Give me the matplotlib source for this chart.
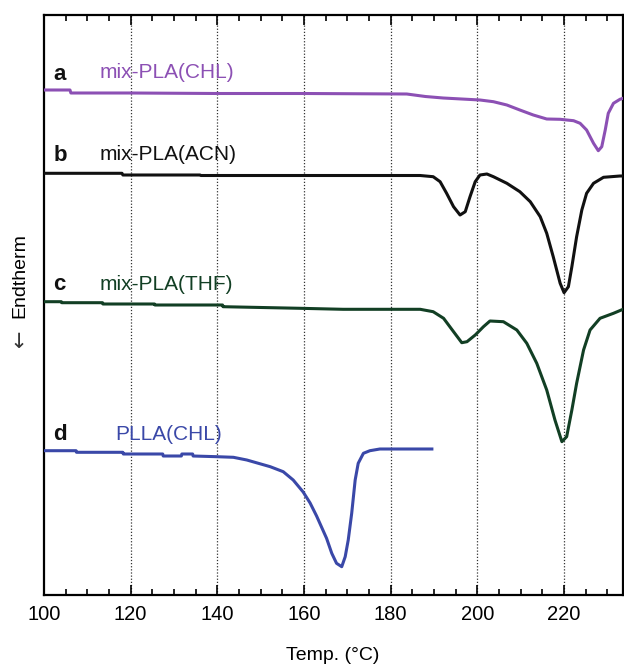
import matplotlib
matplotlib.use("Agg")
import matplotlib.pyplot as plt
from matplotlib.ticker import MultipleLocator

plt.rcParams['font.family'] = ['Liberation Sans', 'DejaVu Sans']

# DSC traces, temperature (°C) vs heat flow (arbitrary units, curves offset)
temp_a = [100, 106, 106.2, 120, 140, 160, 183.7, 188, 192.1, 200.6, 203.7, 206.8, 209.8,
          212.9, 216.0, 219.1, 222.2, 223.7, 225.2, 226.8, 227.9, 228.7, 229.5, 230.2,
          231.4, 232.9, 233.6]
flow_a = [51.0, 51.0, 50.7, 50.7, 50.65, 50.65, 50.6, 50.35, 50.2, 50.0, 49.83, 49.5, 49.0,
          48.5, 48.1, 48.07, 47.93, 47.67, 47.0, 45.67, 44.93, 45.33, 47.0, 48.67,
          49.67, 50.07, 50.17]

temp_b = [100, 118, 118.2, 136, 136.2, 186.8, 189.8, 191.4, 192.9, 194.5, 196.0, 197.2, 198.3,
          199.5, 200.6, 202.2, 203.7, 206.8, 209.8, 212.2, 214.5, 216.0, 217.5, 219.1,
          220.0, 221.0, 221.8, 222.9, 224.1, 225.2, 226.8, 229.1, 232.9, 233.6]
flow_b = [42.67, 42.67, 42.5, 42.5, 42.45, 42.45, 42.33, 41.83, 40.67, 39.33, 38.5, 38.83, 40.33,
          41.83, 42.5, 42.6, 42.33, 41.67, 40.83, 39.83, 38.33, 36.67, 34.33, 31.67,
          30.73, 31.33, 33.33, 36.33, 39.0, 40.67, 41.67, 42.27, 42.4, 42.4]

temp_c = [100, 104, 104.1, 113.5, 113.6, 125.5, 125.6, 141.2, 141.3, 159.1, 169.0, 186.8, 189.8,
          192.2, 194.5, 196.4, 197.6, 199.5, 201.4, 202.9, 206.0, 209.1, 211.4, 213.7,
          216.0, 217.9, 219.5, 220.6, 221.8, 222.9, 224.5, 226.0, 228.3, 231.4, 233.6]
flow_c = [29.83, 29.83, 29.73, 29.73, 29.6, 29.6, 29.5, 29.5, 29.33, 29.17, 29.07, 29.07, 28.83,
          28.17, 26.83, 25.73, 25.83, 26.5, 27.33, 27.9, 27.83, 27.0, 25.67, 23.67,
          21.0, 18.0, 15.83, 16.33, 19.0, 21.67, 25.0, 27.0, 28.17, 28.67, 29.07]

temp_d = [100, 107.4, 107.5, 118.2, 118.3, 127.4, 127.5, 131.7, 131.8, 134.3, 134.4, 139.9, 143.7,
          146.8, 152.2, 155.2, 157.5, 159.8, 161.4, 162.9, 165.2, 166.4, 167.5, 168.7,
          169.5, 170.2, 171.0, 171.8, 172.5, 173.7, 175.2, 177.5, 189.5]
flow_d = [14.93, 14.93, 14.77, 14.77, 14.6, 14.6, 14.4, 14.4, 14.6, 14.6, 14.4, 14.33, 14.27,
          14.0, 13.33, 12.83, 12.0, 10.8, 9.7, 8.4, 6.17, 4.67, 3.67, 3.33,
          4.33, 6.0, 8.67, 12.0, 13.67, 14.67, 14.93, 15.1, 15.1]

letters = ['a', 'b', 'c', 'd']
names = ['mix-PLA(CHL)', 'mix-PLA(ACN)', 'mix-PLA(THF)', 'PLLA(CHL)']
colors = ['#8c50b4', '#111111', '#123f24', '#3a48a8']

fig = plt.figure(figsize=(6.24, 6.66), dpi=100)
ax = fig.add_axes([44 / 624, 71 / 666, 579 / 624, 580 / 666])

# grid lines first so curves sit on top
for t in [120, 140, 160, 180, 200, 220]:
    ax.axvline(t, color='#333333', lw=0.9, ls=(0, (1, 1.5)), zorder=1)

curves = [(temp_a, flow_a), (temp_b, flow_b), (temp_c, flow_c), (temp_d, flow_d)]
for (t, f), c in zip(curves, colors):
    ax.plot(t, f, color=c, lw=2.2, zorder=3)

# curve labels
letter_y = [52.5, 44.45, 31.5, 16.5]
name_x = [112.9, 112.9, 112.9, 116.4]
name_y = [52.75, 44.5, 31.5, 16.55]
for i in range(4):
    ax.text(102.1, letter_y[i], letters[i], fontsize=16, fontweight='bold',
            color='#111111', ha='left', va='center')
    ax.text(name_x[i], name_y[i], names[i], fontsize=15, color=colors[i],
            ha='left', va='center')

ax.set_xlim(100, 233.6)
ax.set_ylim(0.5, 58.5)
ax.xaxis.set_major_locator(MultipleLocator(20))
ax.xaxis.set_minor_locator(MultipleLocator(5))
ax.tick_params(axis='x', which='both', direction='in', top=True, bottom=True,
               labelsize=14.5, pad=7, width=1.2)
ax.tick_params(axis='x', which='major', length=7)
ax.tick_params(axis='x', which='minor', length=4)
ax.set_yticks([])
for s in ax.spines.values():
    s.set_linewidth(1.6)

fig.text(333 / 624, 0.0165, 'Temp. (°C)', fontsize=14, ha='center', va='center')
fig.text(20 / 624, 1 - 276 / 666, 'Endtherm', fontsize=14, rotation=90,
         ha='center', va='center')
fig.text(20 / 624, 1 - 338 / 666, '\u2190', fontsize=15, rotation=90,
         ha='center', va='center', family='DejaVu Sans', color='#333333')

fig.savefig('out.png', dpi=100)
